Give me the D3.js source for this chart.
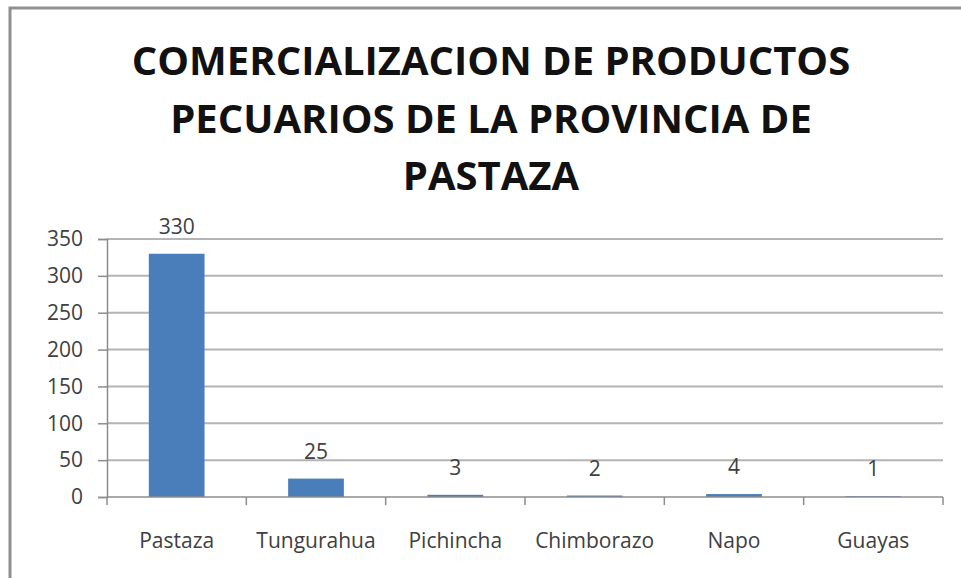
<!DOCTYPE html>
<html>
<head>
<meta charset="utf-8">
<script src="https://cdn.jsdelivr.net/npm/d3@7"></script>
<style>
  body { margin: 0; background: #fff; }
  text { font-family: "Open Sans", sans-serif; }
</style>
</head>
<body>
<div id="chart"></div>
<script>
// data
var categories = ["Pastaza", "Tungurahua", "Pichincha", "Chimborazo", "Napo", "Guayas"];
var values = [330, 25, 3, 2, 4, 1];
var yTicks = [0, 50, 100, 150, 200, 250, 300, 350];
var titleLines = ["COMERCIALIZACION DE PRODUCTOS", "PECUARIOS DE LA PROVINCIA DE", "PASTAZA"];

function setup() {
    var W = 961, H = 578;
    var left = 107, right = 943, top = 239, bottom = 497;

    var svg = d3.select("#chart").append("svg")
        .attr("width", W)
        .attr("height", H);

    svg.append("rect").attr("width", W).attr("height", H).attr("fill", "#fff");

    // frame (only left and top edges show in the picture)
    svg.append("path")
        .attr("d", "M10," + H + "V8H" + W)
        .attr("fill", "none")
        .attr("stroke", "#8f8f8f")
        .attr("stroke-width", 3);

    // title
    svg.append("g").selectAll("text")
        .data(titleLines)
        .enter().append("text")
        .attr("x", 491)
        .attr("y", function(d, i) { return 75 + i * 57.5; })
        .attr("text-anchor", "middle")
        .attr("font-size", 40)
        .attr("font-weight", "bold")
        .attr("fill", "#111")
        .text(function(d) { return d; });

    var x = d3.scaleBand()
        .domain(categories)
        .range([left, right])
        .paddingInner(0.6)
        .paddingOuter(0.3);
    var y = d3.scaleLinear()
        .domain([0, 350])
        .range([bottom, top]);

    // gridlines
    svg.append("g").selectAll("line")
        .data(yTicks.slice(1))
        .enter().append("line")
        .attr("x1", left).attr("x2", right)
        .attr("y1", function(d) { return y(d); })
        .attr("y2", function(d) { return y(d); })
        .attr("stroke", "#b4b4b4")
        .attr("stroke-width", 2);

    // y axis
    var yAxis = svg.append("g")
        .attr("transform", "translate(" + left + ",0)")
        .call(d3.axisLeft(y).tickValues(yTicks).tickSize(9).tickPadding(15));
    yAxis.select(".domain").attr("stroke", "#8c8c8c").attr("stroke-width", 1.5);
    yAxis.selectAll(".tick line").attr("stroke", "#8c8c8c").attr("stroke-width", 1.5);
    yAxis.selectAll("text")
        .attr("font-family", "Open Sans, sans-serif")
        .attr("font-size", 21)
        .attr("fill", "#404040");

    // bars
    svg.append("g").selectAll("rect")
        .data(values)
        .enter().append("rect")
        .attr("x", function(d, i) { return x(categories[i]); })
        .attr("width", x.bandwidth())
        .attr("y", function(d) { return y(d); })
        .attr("height", function(d) { return bottom - y(d); })
        .attr("fill", "#4a7ebb");

    // x axis: ticks sit on the category boundaries
    var step = x.step();
    var bounds = d3.range(categories.length + 1).map(function(i) { return left + i * step; });
    svg.append("line")
        .attr("x1", left).attr("x2", right)
        .attr("y1", bottom).attr("y2", bottom)
        .attr("stroke", "#8c8c8c").attr("stroke-width", 1.5);
    svg.append("g").selectAll("line")
        .data(bounds)
        .enter().append("line")
        .attr("x1", function(d) { return d; }).attr("x2", function(d) { return d; })
        .attr("y1", bottom).attr("y2", bottom + 8)
        .attr("stroke", "#8c8c8c").attr("stroke-width", 1.5);

    svg.append("g").selectAll("text")
        .data(categories)
        .enter().append("text")
        .attr("x", function(d) { return x(d) + x.bandwidth() / 2; })
        .attr("y", 548)
        .attr("text-anchor", "middle")
        .attr("font-size", 21)
        .attr("fill", "#404040")
        .text(function(d) { return d; });

    // data labels
    svg.append("g").selectAll("text")
        .data(values)
        .enter().append("text")
        .attr("x", function(d, i) { return x(categories[i]) + x.bandwidth() / 2; })
        .attr("y", function(d) { return y(d) - 20; })
        .attr("text-anchor", "middle")
        .attr("font-size", 21)
        .attr("fill", "#404040")
        .text(function(d) { return d; });
}

setup();
</script>
</body>
</html>
